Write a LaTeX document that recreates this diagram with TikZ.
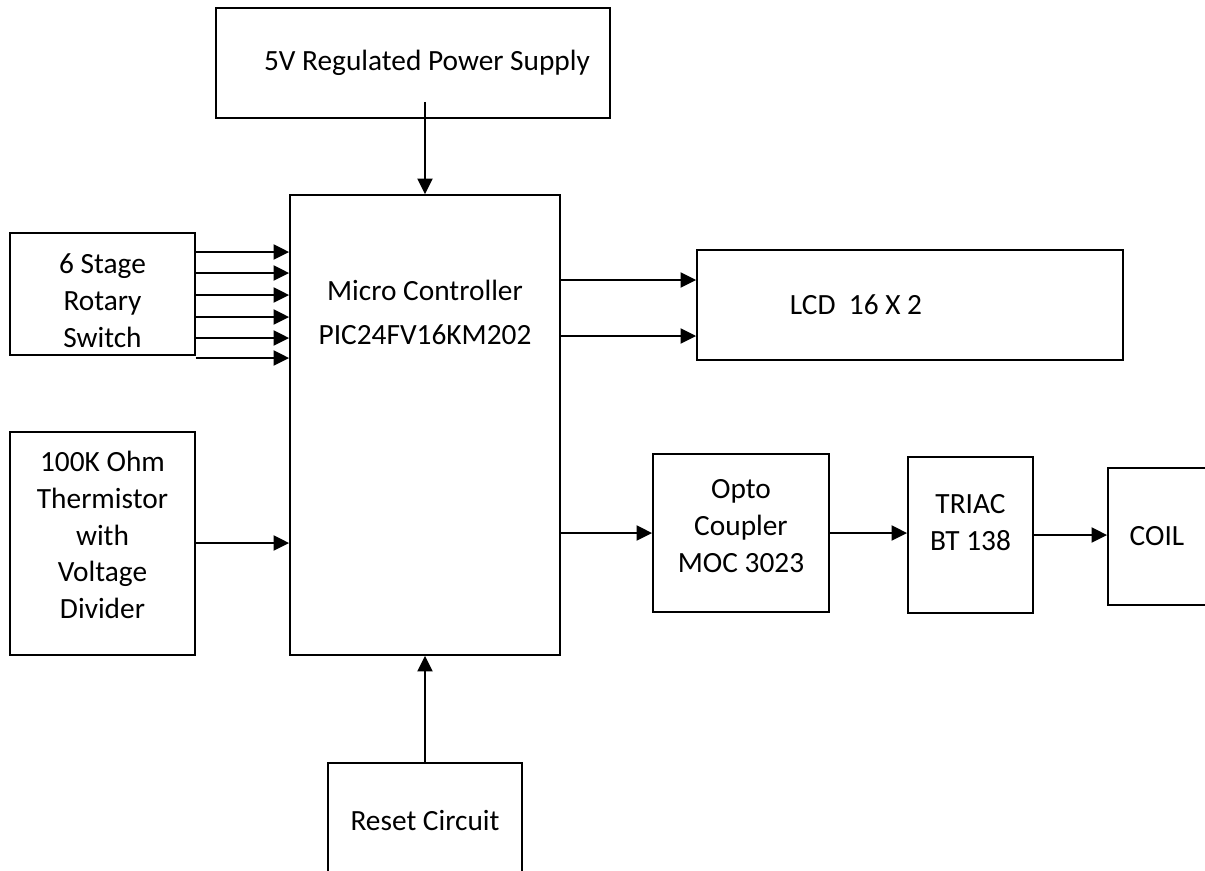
\documentclass[tikz,border=0pt]{standalone}
\usepackage{fontspec}
\setmainfont{Carlito}
\usetikzlibrary{arrows.meta}
\tikzset{
  blk/.style ={rectangle, draw=black, line width=1.1pt, align=center,
               inner sep=2pt, font=\fontsize{16.7}{21}\selectfont},
  txt/.style ={align=center, font=\fontsize{16.7}{21}\selectfont},
  arr/.style ={-{Triangle[length=3.1mm, width=3mm]}, line width=1.1pt}
}
\begin{document}
\begin{tikzpicture}[x=0.02cm, y=-0.02cm]
  \clip (0,0) rectangle (1205,870);
  \node[blk, minimum width=7.88cm, minimum height=2.2cm] (pwr) at (413,63) {};
  \node[txt] (pwrtxt) at (427,63) {5V Regulated Power Supply};
  \node[blk, minimum width=5.4cm, minimum height=9.2cm] (mcu) at (425,425) {};
  \node[txt] (mcutxt) at (425,312) {Micro Controller\\[4pt]PIC24FV16KM202};
  \node[blk, minimum width=3.7cm, minimum height=2.44cm] (sw) at (102.5,294) {};
  \node[txt] (swtxt) at (102.5,301) {6 Stage\\Rotary\\Switch};
  \node[blk, minimum width=3.7cm, minimum height=4.46cm] (th) at (102.5,543.5) {};
  \node[txt] (thtxt) at (102.5,535) {100K Ohm\\Thermistor\\with\\Voltage\\Divider};
  \node[blk, minimum width=8.52cm, minimum height=2.2cm] (lcd) at (910,305) {};
  \node[txt] (lcdtxt) at ([xshift=-1.08cm]lcd.center) {LCD\ \ 16 X 2};
  \node[blk, minimum width=3.52cm, minimum height=3.16cm] (opto) at (741,533) {};
  \node[txt] (optotxt) at (741,526) {Opto\\Coupler\\MOC 3023};
  \node[blk, minimum width=2.5cm, minimum height=3.12cm] (triac) at (970.5,535) {};
  \node[txt] (triactxt) at (970.5,523) {TRIAC\\BT 138};
  \node[blk, minimum width=1.96cm, minimum height=2.74cm] (coil) at (1157,536.5) {COIL};
  \node[blk, minimum width=3.88cm, minimum height=2.32cm] (rst) at (425,821) {Reset Circuit};

  % supply tap inside the supply box
  \coordinate (ptap) at ([yshift=0.34cm]pwr.south -| mcu.north);
  \draw[arr] (ptap) -- (mcu.north);

  % switch lines
  \foreach \y [count=\i] in {252,273,295,317,338,358} {
    \coordinate (s\i) at (0,\y);
    \draw[arr] (sw.east |- s\i) -- (mcu.west |- s\i);
  }
  \coordinate (t1) at (0,543);
  \draw[arr] (th.east |- t1) -- (mcu.west |- t1);

  % lcd bus
  \coordinate (l1) at (0,280);
  \coordinate (l2) at (0,336);
  \draw[arr] (mcu.east |- l1) -- (lcd.west |- l1);
  \draw[arr] (mcu.east |- l2) -- (lcd.west |- l2);

  \draw[arr] (mcu.east |- opto.west) -- (opto.west);
  \draw[arr] (opto.east) -- (triac.west |- opto.east);
  \draw[arr] (triac.east) -- (coil.west |- triac.east);
  \draw[arr] (rst.north) -- (mcu.south);
\end{tikzpicture}
\end{document}
